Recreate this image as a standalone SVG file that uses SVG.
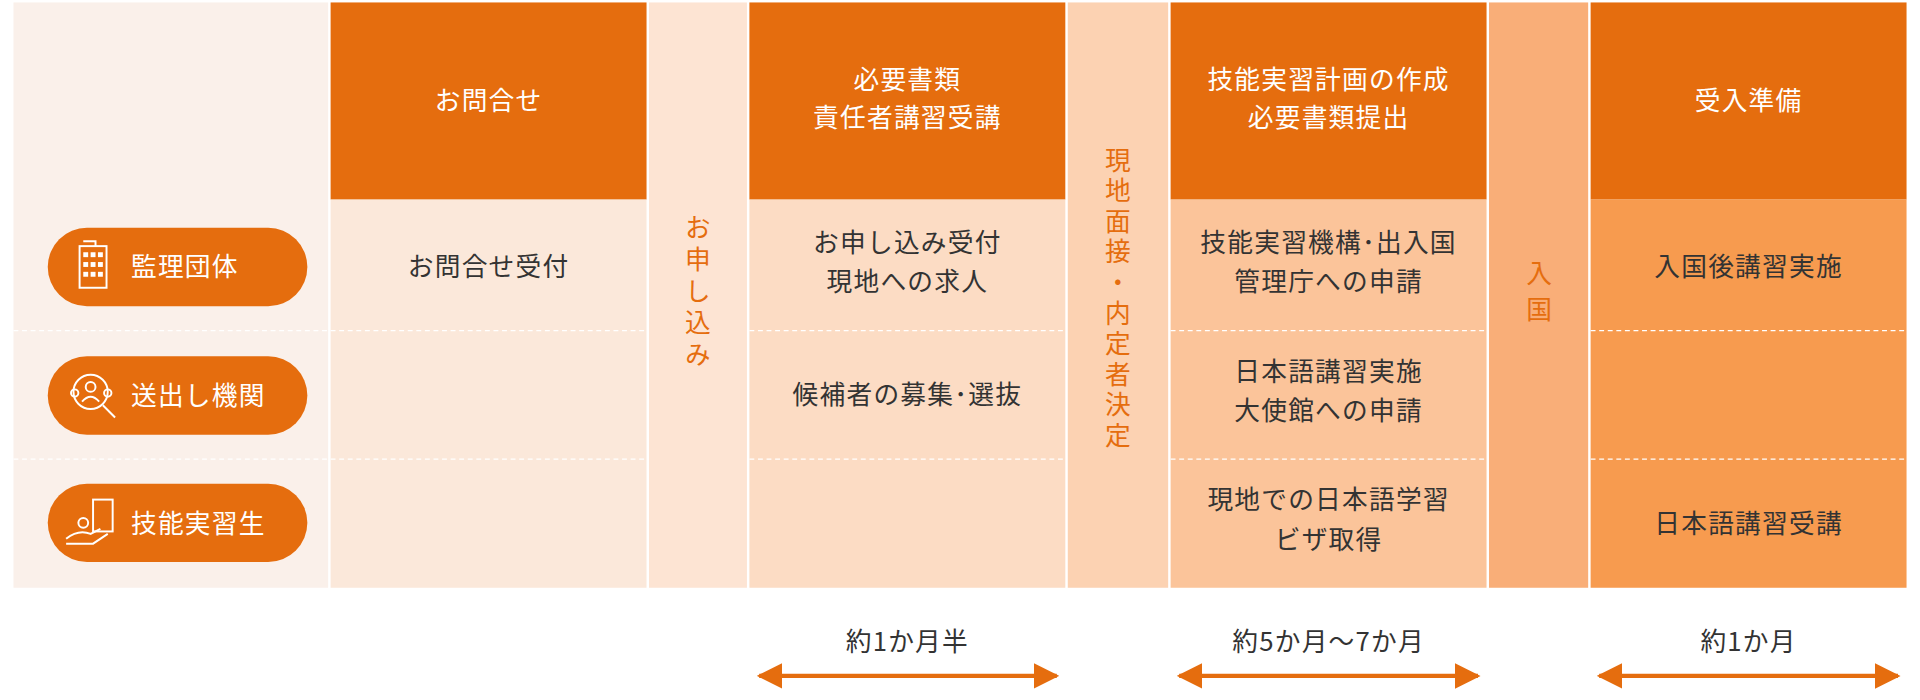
<svg xmlns="http://www.w3.org/2000/svg" width="1920" height="700" viewBox="0 0 1920 700">
<style>
text{font-family:"Noto Sans CJK JP","Noto Sans",sans-serif;font-size:21px;letter-spacing:1px;text-anchor:middle}
.h{fill:#fff}.b{fill:#333}.o{fill:#e56d0e}.p{fill:#fff;text-anchor:start}
.v{writing-mode:vertical-rl;fill:#e56d0e}
.hd{fill:#e56d0e}.dl{stroke:#fff;stroke-dasharray:4 3;stroke-width:1}
</style>
<defs><marker id="a" viewBox="0 0 10 10" refX="9" refY="5" markerWidth="6" markerHeight="6" orient="auto-start-reverse" markerUnits="strokeWidth"><path d="M0,0L10,5L0,10z" fill="#e56d0e"/></marker></defs>
<rect width="1920" height="700" fill="#fff"/>
<g transform="scale(1.2245)">
<g id="col0"><rect x="11" y="2" width="257" height="478" fill="#faf0ea"/></g>
<g id="col1"><rect x="270" y="2" width="258" height="161" class="hd"/><rect x="270" y="163" width="258" height="317" fill="#fbe8da"/><text x="399" y="90" class="h">お問合せ</text><text x="399" y="225" class="b">お問合せ受付</text></g>
<g id="n1"><rect x="530" y="2" width="80" height="478" fill="#fde4d3"/><text class="v" x="570" y="240" style="letter-spacing:5px">お申し込み</text></g>
<g id="col2"><rect x="612" y="2" width="258" height="161" class="hd"/><rect x="612" y="163" width="258" height="317" fill="#fcdcc4"/><text x="741" y="73" class="h">必要書類</text><text x="741" y="104" class="h">責任者講習受講</text><text x="741" y="206" class="b">お申し込み受付</text><text x="741" y="238" class="b">現地への求人</text><text x="741" y="330" class="b">候補者の募集･選抜</text></g>
<g id="n2"><rect x="872" y="2" width="82" height="478" fill="#fcd2b2"/><text class="v" x="913" y="245" style="letter-spacing:4px">現地面接・内定者決定</text></g>
<g id="col3"><rect x="956" y="2" width="258" height="161" class="hd"/><rect x="956" y="163" width="258" height="317" fill="#fbc49a"/><text x="1085" y="73" class="h">技能実習計画の作成</text><text x="1085" y="104" class="h">必要書類提出</text><text x="1085" y="206" class="b">技能実習機構･出入国</text><text x="1085" y="238" class="b">管理庁への申請</text><text x="1085" y="311" class="b">日本語講習実施</text><text x="1085" y="343" class="b">大使館への申請</text><text x="1085" y="416" class="b">現地での日本語学習</text><text x="1085" y="448" class="b">ビザ取得</text></g>
<g id="n3"><rect x="1216" y="2" width="81" height="478" fill="#f9ae78"/><text class="v" x="1257" y="242" style="letter-spacing:8px">入国</text></g>
<g id="col4"><rect x="1299" y="2" width="258" height="161" class="hd"/><rect x="1299" y="163" width="258" height="317" fill="#f79b4f"/><text x="1428" y="90" class="h">受入準備</text><text x="1428" y="225" class="b">入国後講習実施</text><text x="1428" y="435" class="b">日本語講習受講</text></g>
<g id="dividers"><path class="dl" d="M11 270H268M11 375H268M270 270H528M270 375H528M612 270H870M612 375H870M956 270H1214M956 375H1214M1299 270H1557M1299 375H1557"/></g>
<g id="pill1"><rect x="39" y="186" width="212" height="64" rx="32" fill="#e56d0e"/><g fill="none" stroke="#fff" stroke-width="1.6"><rect x="65" y="201" width="22" height="34"/><path d="M68 197h10v4"/></g><g fill="#fff"><rect x="68" y="206" width="4" height="4"/><rect x="74" y="206" width="4" height="4"/><rect x="80" y="206" width="4" height="4"/><rect x="68" y="214" width="4" height="4"/><rect x="74" y="214" width="4" height="4"/><rect x="80" y="214" width="4" height="4"/><rect x="68" y="222" width="4" height="4"/><rect x="74" y="222" width="4" height="4"/><rect x="80" y="222" width="4" height="4"/></g><text x="107" y="225" class="p">監理団体</text></g>
<g id="pill2"><rect x="39" y="291" width="212" height="64" rx="32" fill="#e56d0e"/><g fill="none" stroke="#fff" stroke-width="1.6"><circle cx="74" cy="320" r="14"/><circle cx="74" cy="316" r="4"/><path d="M67 328q7-8 14 0"/><circle cx="61" cy="321" r="3"/><circle cx="88" cy="321" r="3"/><path d="M84 331l10 10"/></g><text x="107" y="331" class="p">送出し機関</text></g>
<g id="pill3"><rect x="39" y="395" width="212" height="64" rx="32" fill="#e56d0e"/><g fill="none" stroke="#fff" stroke-width="1.6"><rect x="76" y="408" width="16" height="26"/><circle cx="68" cy="427" r="4"/><path d="M54 440q10-8 20-4l8-4M54 444h22l12-8"/></g><text x="107" y="435" class="p">技能実習生</text></g>
<g id="connectors" stroke="#e56d0e" stroke-width="3.5"><line x1="620" y1="552" x2="863" y2="552" marker-start="url(#a)" marker-end="url(#a)"/><line x1="963" y1="552" x2="1207" y2="552" marker-start="url(#a)" marker-end="url(#a)"/><line x1="1306" y1="552" x2="1550" y2="552" marker-start="url(#a)" marker-end="url(#a)"/></g>
<g id="labels"><text x="741" y="532" class="b">約1か月半</text><text x="1085" y="532" class="b">約5か月〜7か月</text><text x="1428" y="532" class="b">約1か月</text></g>
</g>
</svg>
